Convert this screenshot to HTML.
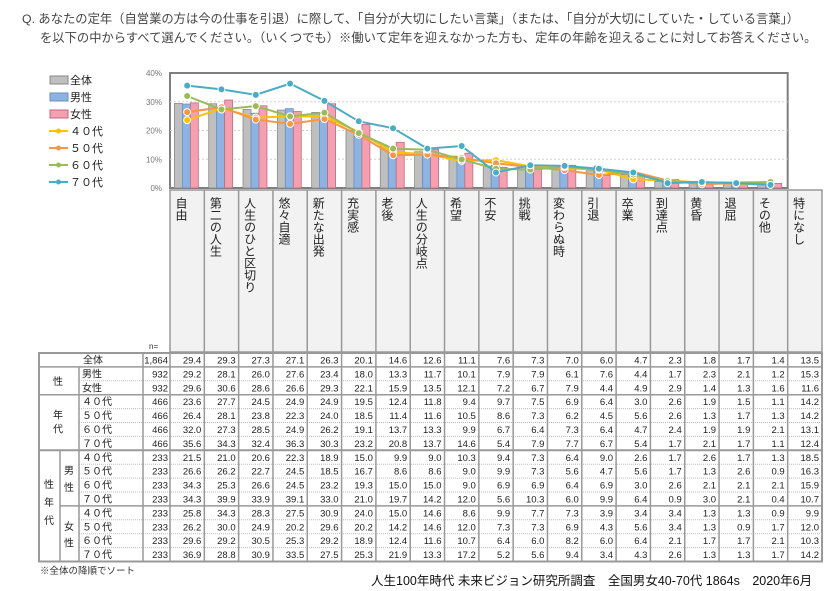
<!DOCTYPE html>
<html><head><meta charset="utf-8">
<style>
body{margin:0;width:840px;height:591px;background:#fff;overflow:hidden;font-family:"Liberation Sans","Noto Sans CJK JP",sans-serif;color:#333;position:relative}
.t{position:absolute;white-space:nowrap}
.vl{position:absolute;writing-mode:vertical-rl;font-size:12px;color:#222;line-height:12px}
</style></head><body>
<div class="t" style="left:22px;top:9px;font-size:12.3px;color:#444">Q. あなたの定年（自営業の方は今の仕事を引退）に際して、「自分が大切にしたい言葉」（または、「自分が大切にしていた・している言葉」）</div>
<div class="t" style="left:40px;top:28px;font-size:12.3px;color:#444">を以下の中からすべて選んでください。（いくつでも）※働いて定年を迎えなかった方も、定年の年齢を迎えることに対してお答えください。</div>
<svg id="chart" width="840" height="591" style="position:absolute;left:0;top:0"></svg>
<div id="hdr"></div>
<div class="t" style="left:40px;top:563px;font-size:9.5px;color:#333">※全体の降順でソート</div>
<div class="t" style="left:371px;top:570px;font-size:12.5px;color:#111">人生100年時代 未来ビジョン研究所調査　全国男女40-70代 1864s　2020年6月</div>
<script>
const tableCols=["自由","第二の人生","人生のひと区切り","悠々自適","新たな出発","充実感","老後","人生の分岐点","希望","不安","挑戦","変わらぬ時","引退","卒業","到達点","黄昏","退屈","その他","特になし"];
const rowNames=["全体","男性","女性","４０代","５０代","６０代","７０代","４０代","５０代","６０代","７０代","４０代","５０代","６０代","７０代"];
const rowN=["1,864","932","932","466","466","466","466","233","233","233","233","233","233","233","233"];
const r0=[29.4,29.3,27.3,27.1,26.3,20.1,14.6,12.6,11.1,7.6,7.3,7.0,6.0,4.7,2.3,1.8,1.7,1.4,13.5];
const r1=[29.2,28.1,26.0,27.6,23.4,18.0,13.3,11.7,10.1,7.9,7.9,6.1,7.6,4.4,1.7,2.3,2.1,1.2,15.3];
const r2=[29.6,30.6,28.6,26.6,29.3,22.1,15.9,13.5,12.1,7.2,6.7,7.9,4.4,4.9,2.9,1.4,1.3,1.6,11.6];
const r3=[23.6,27.7,24.5,24.9,24.9,19.5,12.4,11.8,9.4,9.7,7.5,6.9,6.4,3.0,2.6,1.9,1.5,1.1,14.2];
const r4=[26.4,28.1,23.8,22.3,24.0,18.5,11.4,11.6,10.5,8.6,7.3,6.2,4.5,5.6,2.6,1.3,1.7,1.3,14.2];
const r5=[32.0,27.3,28.5,24.9,26.2,19.1,13.7,13.3,9.9,6.7,6.4,7.3,6.4,4.7,2.4,1.9,1.9,2.1,13.1];
const r6=[35.6,34.3,32.4,36.3,30.3,23.2,20.8,13.7,14.6,5.4,7.9,7.7,6.7,5.4,1.7,2.1,1.7,1.1,12.4];
const r7=[21.5,21.0,20.6,22.3,18.9,15.0,9.9,9.0,10.3,9.4,7.3,6.4,9.0,2.6,1.7,2.6,1.7,1.3,18.5];
const r8=[26.6,26.2,22.7,24.5,18.5,16.7,8.6,8.6,9.0,9.9,7.3,5.6,4.7,5.6,1.7,1.3,2.6,0.9,16.3];
const r9=[34.3,25.3,26.6,24.5,23.2,19.3,15.0,15.0,9.0,6.9,6.9,6.4,6.9,3.0,2.6,2.1,2.1,2.1,15.9];
const r10=[34.3,39.9,33.9,39.1,33.0,21.0,19.7,14.2,12.0,5.6,10.3,6.0,9.9,6.4,0.9,3.0,2.1,0.4,10.7];
const r11=[25.8,34.3,28.3,27.5,30.9,24.0,15.0,14.6,8.6,9.9,7.7,7.3,3.9,3.4,3.4,1.3,1.3,0.9,9.9];
const r12=[26.2,30.0,24.9,20.2,29.6,20.2,14.2,14.6,12.0,7.3,7.3,6.9,4.3,5.6,3.4,1.3,0.9,1.7,12.0];
const r13=[29.6,29.2,30.5,25.3,29.2,18.9,12.4,11.6,10.7,6.4,6.0,8.2,6.0,6.4,2.1,1.7,1.7,2.1,10.3];
const r14=[36.9,28.8,30.9,33.5,27.5,25.3,21.9,13.3,17.2,5.2,5.6,9.4,3.4,4.3,2.6,1.3,1.3,1.7,14.2];
const yTicks=[0,10,20,30,40];
const rows=[r0,r1,r2,r3,r4,r5,r6,r7,r8,r9,r10,r11,r12,r13,r14];
</script>
<script>
const NS="http://www.w3.org/2000/svg";
const svg=document.getElementById('chart');
function mk(tag,attrs,parent){const e=document.createElementNS(NS,tag);for(const k in attrs)e.setAttribute(k,attrs[k]);(parent||svg).appendChild(e);return e;}
(function(){
const L=170,R=822,TOP=73,BOT=188;
const nCols=tableCols.length;
const cw=(R-L)/nCols;
const nChart=nCols-1;
const plotR=L+cw*nChart;
const y=v=>BOT-(v/40)*(BOT-TOP);
const x=i=>L+cw*(i+0.5);
const frame=mk('rect',{x:L,y:TOP,width:plotR-L,height:BOT-TOP,fill:'#fff',stroke:'#7f7f7f','stroke-width':2});

yTicks.forEach(t=>{
 if(t>0&&t<40){const g=mk('line',{x1:L,x2:plotR,y1:y(t),y2:y(t),stroke:'#d0d0d0','stroke-dasharray':'2,2'});}
 const tx=mk('text',{x:L-8,y:y(t)+3,'font-size':8,fill:'#777','text-anchor':'end'});tx.textContent=t+'%';
 
});
const barSeries=[[r0,'#bfbfbf','#8a8a8a'],[r1,'#8db3e2','#6a8fc0'],[r2,'#f4a0b0','#c06a7e']];
const bw=Math.min(8,cw/4.3);
for(let i=0;i<nChart;i++){
 barSeries.forEach((s,k)=>{
  const v=s[0][i];
  const b=mk('rect',{x:x(i)-bw*1.6+k*bw,y:y(v),width:bw,height:BOT-y(v),fill:s[1],stroke:s[2],'stroke-width':0.8});
  
 });
}
const lineSeries=[[r3,'#ffc000'],[r4,'#f79646'],[r5,'#9bbb59'],[r6,'#4bacc6']];
lineSeries.forEach((s,k)=>{
 const pts=[];for(let i=0;i<nChart;i++)pts.push(x(i)+','+y(s[0][i]));
 const p=mk('polyline',{points:pts.join(' '),fill:'none',stroke:s[1],'stroke-width':2});
 
 for(let i=0;i<nChart;i++){const c=mk('circle',{cx:x(i),cy:y(s[0][i]),r:3.5,fill:s[1],stroke:'#fff','stroke-width':1});
  }
});
const leg=[['全体','bar','#bfbfbf','#8a8a8a'],['男性','bar','#8db3e2','#6a8fc0'],['女性','bar','#f4a0b0','#c06a7e'],['４０代','line','#ffc000'],['５０代','line','#f79646'],['６０代','line','#9bbb59'],['７０代','line','#4bacc6']];
leg.forEach((l,i)=>{
 const yy=80+i*17;
 const g=mk('g',{});
 if(l[1]==='bar')mk('rect',{x:50,y:yy-4,width:18,height:8,fill:l[2],stroke:l[3],'stroke-width':1},g);
 else{mk('line',{x1:49,x2:68,y1:yy,y2:yy,stroke:l[2],'stroke-width':2},g);mk('circle',{cx:58.5,cy:yy,r:2.5,fill:l[2]},g);}
 const t=mk('text',{x:70,y:yy+4,'font-size':11,fill:'#222'},g);t.textContent=l[0];
});
const hdr=document.getElementById('hdr');
const HT=190,HB=352;
const bg=mk('rect',{x:L,y:HT,width:R-L,height:HB-HT,fill:'#f2f2f2',stroke:'#999','stroke-width':1.5});

for(let i=0;i<nCols;i++){
 if(i>0)mk('line',{x1:L+cw*i,x2:L+cw*i,y1:HT,y2:HB,stroke:'#999','stroke-width':1.5});
 const d=document.createElement('div');d.className='vl';d.textContent=tableCols[i];
 d.style.left=(L+cw*i+5)+'px';d.style.top=(HT+7)+'px';
 
 hdr.appendChild(d);
}
const nl=mk('text',{x:149,y:349,'font-size':8,fill:'#333'});nl.textContent='n=';
const TT=353,rh=13.9,TL=39;
const TB=TT+rh*15;
const o=mk('rect',{x:TL,y:TT,width:R-TL,height:TB-TT,fill:'none',stroke:'#999','stroke-width':2});

const groupEnds=[1,3,7,15];
for(let r=1;r<15;r++){
 const yy=TT+rh*r;
 if(r===11){mk('line',{x1:60,x2:R,y1:yy,y2:yy,stroke:'#999','stroke-width':1.5});continue;}
 const solid=groupEnds.includes(r);
 mk('line',{x1:solid?TL:79,x2:R,y1:yy,y2:yy,stroke:solid?'#999':'#bbb','stroke-width':solid?(r===7?2:1.5):1,'stroke-dasharray':solid?'':'1,1'});
}
mk('line',{x1:79,x2:79,y1:TT+rh,y2:TB,stroke:'#999','stroke-width':1.5});
mk('line',{x1:60,x2:60,y1:TT+rh*7,y2:TB,stroke:'#999','stroke-width':1.5});
mk('line',{x1:143,x2:143,y1:TT,y2:TB,stroke:'#999','stroke-width':1.5});
for(let i=0;i<nCols;i++)mk('line',{x1:L+cw*i,x2:L+cw*i,y1:TT,y2:TB,stroke:'#999','stroke-width':1.5});
function txt(s,xx,yy,anchor,size,name){const t=mk('text',{x:xx,y:yy,'font-size':size||10,fill:'#222','text-anchor':anchor||'start'});t.textContent=s;return t;}
txt('性',58,TT+rh*2+4,'middle',10,'group-label');
txt('年',58,TT+rh*4.5+3,'middle',10,'group-label');
txt('代',58,TT+rh*5.5+3,'middle',10,'group-label');
txt('性',49,TT+rh*9+10,'middle',10,'group-label');
txt('年',49,TT+rh*10.3+10,'middle',10,'group-label');
txt('代',49,TT+rh*11.6+10,'middle',10,'group-label');
txt('男',69,TT+rh*8+10,'middle',10,'group-label');
txt('性',69,TT+rh*9.2+10,'middle',10,'group-label');
txt('女',69,TT+rh*12+10,'middle',10,'group-label');
txt('性',69,TT+rh*13.2+10,'middle',10,'group-label');
for(let r=0;r<15;r++){
 const yy=TT+rh*r+10.5;
 txt(rowNames[r],r===0?83:82,yy,'start',10,'row-label');
 txt(rowN[r],168,yy,'end',9.5,'row-n');
 for(let i=0;i<nCols;i++)txt(rows[r][i].toFixed(1),L+cw*(i+1)-3,yy,'end',9.5);
}
})();
</script>
</body></html>
